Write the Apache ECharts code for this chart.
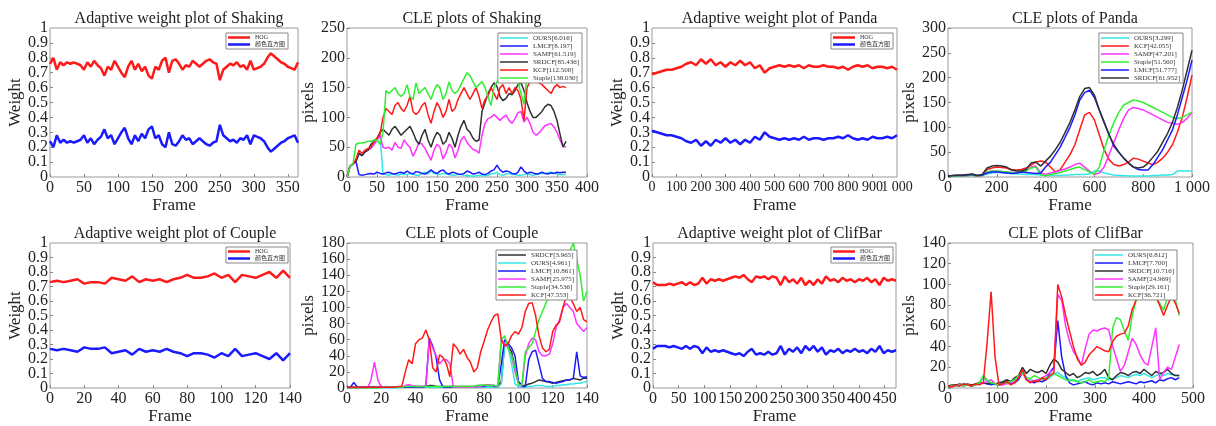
<!DOCTYPE html>
<html><head><meta charset="utf-8">
<script src="https://cdn.jsdelivr.net/npm/echarts@6/dist/echarts.min.js"></script>
<style>html,body{margin:0;padding:0;background:#fff}#c{width:1216px;height:426px}</style>
</head><body><div id="c"></div>
<script>
// ---------- DATA ----------
function steps(a, b, s) { const r = []; for (let v = a; v <= b; v += s) r.push(v); return r; }

// Adaptive weight: Shaking (frames every 5)
const shakingWFrames = steps(0, 365, 5);
const shakingHOG = [0.76,0.80,0.72,0.77,0.75,0.77,0.76,0.77,0.76,0.75,0.72,0.77,0.74,0.78,0.75,0.73,0.68,0.74,0.72,0.78,0.74,0.70,0.67,0.74,0.78,0.72,0.76,0.71,0.74,0.68,0.66,0.74,0.72,0.78,0.80,0.70,0.78,0.79,0.76,0.72,0.75,0.74,0.78,0.76,0.74,0.76,0.78,0.79,0.77,0.76,0.65,0.72,0.74,0.76,0.75,0.77,0.74,0.75,0.72,0.78,0.72,0.73,0.74,0.76,0.80,0.83,0.81,0.79,0.77,0.76,0.74,0.73,0.72,0.77];
const shakingColor = [0.24,0.20,0.28,0.23,0.25,0.23,0.24,0.23,0.24,0.25,0.28,0.23,0.26,0.22,0.25,0.27,0.32,0.26,0.28,0.22,0.26,0.30,0.33,0.26,0.22,0.28,0.24,0.29,0.26,0.32,0.34,0.26,0.28,0.22,0.20,0.30,0.22,0.21,0.24,0.28,0.25,0.26,0.22,0.24,0.26,0.24,0.22,0.21,0.23,0.24,0.35,0.28,0.26,0.24,0.25,0.23,0.26,0.25,0.28,0.22,0.28,0.27,0.26,0.24,0.20,0.17,0.19,0.21,0.23,0.24,0.26,0.27,0.28,0.23];

// CLE: Shaking (frames every 5)
const shakingCFrames = steps(0, 365, 5);
const shakingOURS = [0,18,22,26,40,36,42,45,48,55,62,70,5,4,3,5,4,3,5,4,4,6,5,3,3,6,8,5,10,6,5,4,6,5,4,3,3,4,5,3,2,2,1,2,3,2,2,3,5,6,8,4,3,5,6,4,4,3,3,4,5,4,3,4,5,6,6,7,8,6,5,4,4,4];
const shakingLMCF = [0,18,22,26,4,3,4,5,6,5,8,6,5,7,8,6,5,7,8,6,10,7,5,9,8,6,5,8,12,8,6,10,12,7,5,8,7,5,4,6,10,8,5,6,8,5,4,6,10,12,20,12,8,10,9,6,5,8,17,10,6,8,7,5,6,8,6,5,7,6,8,7,8,8];
const shakingSAMF = [0,18,22,26,40,36,42,45,48,55,62,70,50,48,50,45,58,50,48,62,55,50,35,45,58,55,48,38,28,45,55,50,30,40,55,50,32,45,62,68,58,52,46,45,40,70,90,98,100,105,100,95,100,104,95,90,98,108,110,92,100,90,75,70,74,80,86,88,90,84,75,62,52,50];
const shakingSRDCF = [0,18,22,26,40,36,42,45,55,60,65,75,80,75,70,80,85,78,70,75,80,85,75,62,55,70,80,62,50,65,75,70,55,60,75,65,50,70,85,95,80,75,65,60,62,110,125,140,150,158,152,135,128,132,140,138,145,155,158,145,125,110,100,100,105,110,118,122,120,110,95,72,50,60];
const shakingKCF = [0,18,22,30,45,40,45,48,50,60,65,72,100,115,110,105,120,125,115,110,120,135,110,105,110,120,125,105,90,110,125,115,100,110,130,110,115,130,140,150,140,130,140,150,135,115,130,135,150,140,130,150,155,140,150,140,150,145,130,95,150,160,162,160,158,155,150,145,140,150,155,150,152,150];
const shakingStaple = [0,18,22,55,57,57,58,60,60,62,62,55,75,145,140,145,150,140,135,140,155,135,130,158,140,145,150,140,130,145,155,150,130,140,160,145,140,145,155,165,175,170,160,150,155,160,150,135,120,150,160,165,170,175,165,170,175,160,140,122,170,180,185,190,185,180,185,190,185,180,178,175,180,182];

// Adaptive weight: Panda (frames every 20)
const pandaWFrames = steps(0, 1000, 20);
const pandaHOG = [0.69,0.70,0.71,0.72,0.72,0.73,0.74,0.76,0.77,0.75,0.79,0.76,0.79,0.75,0.77,0.74,0.77,0.75,0.78,0.75,0.77,0.73,0.75,0.70,0.73,0.74,0.75,0.74,0.75,0.74,0.75,0.73,0.75,0.74,0.74,0.75,0.74,0.74,0.73,0.74,0.72,0.74,0.75,0.74,0.75,0.73,0.74,0.74,0.73,0.74,0.72];
const pandaColor = [0.31,0.30,0.29,0.28,0.28,0.27,0.26,0.24,0.23,0.25,0.21,0.24,0.21,0.25,0.23,0.26,0.23,0.25,0.22,0.25,0.23,0.27,0.25,0.30,0.27,0.26,0.25,0.26,0.25,0.26,0.25,0.27,0.25,0.26,0.26,0.25,0.26,0.26,0.27,0.26,0.28,0.26,0.25,0.26,0.25,0.27,0.26,0.26,0.27,0.26,0.28];

// CLE: Panda (frames every 20)
const pandaCFrames = steps(0, 1000, 20);
const pandaOURS = [1,2,2,2,3,3,2,3,6,8,9,9,8,7,6,6,5,5,5,4,3,3,3,3,4,4,5,5,5,6,12,12,8,6,4,3,3,2,2,2,2,2,3,3,4,4,5,12,12,12,12];
const pandaKCF = [1,2,2,3,3,4,2,3,15,18,20,19,18,15,14,15,18,24,30,32,30,20,10,15,30,45,65,95,125,130,115,85,55,35,25,22,25,30,38,36,32,28,25,30,38,50,65,90,120,160,205];
const pandaSAMF = [1,2,2,3,3,4,2,3,10,12,12,11,10,9,8,10,12,20,22,8,5,8,10,13,16,20,25,28,20,12,5,8,20,45,70,95,118,135,140,138,135,130,125,120,115,110,108,106,110,118,130];
const pandaStaple = [1,2,2,3,3,4,2,3,10,12,12,11,10,9,8,10,12,18,20,4,3,5,7,9,12,15,18,20,15,10,6,20,55,85,110,130,145,150,155,153,150,145,140,135,130,125,120,118,120,125,130];
const pandaLMCF = [2,3,3,4,4,5,3,4,8,10,10,9,8,7,8,10,9,8,7,8,20,30,45,60,80,100,125,155,170,175,160,135,110,85,62,50,38,28,20,15,14,14,25,40,55,75,95,125,160,195,235];
const pandaSRDCF = [2,3,4,3,5,6,3,5,18,22,23,22,20,14,12,12,15,28,30,22,32,42,55,70,90,110,135,162,178,180,165,135,110,85,65,50,38,28,20,18,20,28,40,52,70,88,110,140,175,215,255];

// Adaptive weight: Couple (frames every 4)
const coupleWFrames = steps(0, 140, 4);
const coupleHOG = [0.73,0.74,0.73,0.74,0.75,0.72,0.73,0.73,0.72,0.76,0.75,0.74,0.77,0.73,0.75,0.74,0.75,0.73,0.75,0.76,0.78,0.76,0.76,0.77,0.79,0.76,0.78,0.73,0.78,0.77,0.76,0.78,0.80,0.76,0.81,0.76];
const coupleColor = [0.27,0.26,0.27,0.26,0.25,0.28,0.27,0.27,0.28,0.24,0.25,0.26,0.23,0.27,0.25,0.26,0.25,0.27,0.25,0.24,0.22,0.24,0.24,0.23,0.21,0.24,0.22,0.27,0.22,0.23,0.24,0.22,0.20,0.24,0.19,0.24];

// CLE: Couple (frames every 2)
const coupleCFrames = steps(0, 140, 2);
const coupleSRDCF = [1,1,1,1,1,1,1,1,1,1, 1,1,1,1,1,1,1,2,2,2, 2,2,2,2,3,3,2,2,2,2, 2,2,2,2,2,2,2,2,3,3, 3,3,3,3,2,8,55,52,45,25, 8,3,3,5,6,8,10,9,8,7, 6,7,8,9,10,10,12,11,10,12, 12];
const coupleOURS = [0,0,0,0,0,0,0,0,0,0, 0,0,0,0,0,0,1,1,1,1, 1,1,1,1,1,1,1,1,1,1, 1,1,1,1,1,1,1,1,1,1, 1,1,1,1,1,5,55,50,30,5, 2,1,1,2,2,3,3,3,2,2, 2,3,3,4,4,5,5,6,6,7, 8];
const coupleLMCF = [1,1,7,1,1,1,1,1,1,1, 1,1,1,1,1,1,1,1,1,1, 1,1,1,2,62,52,38,10,1,1, 1,1,1,1,1,1,1,1,2,2, 2,3,3,2,2,30,60,55,50,40, 8,2,2,35,45,47,30,12,8,8, 7,6,7,8,10,10,12,45,15,13, 14];
const coupleSAMF = [0,0,0,0,0,0,0,10,32,10, 1,1,1,1,1,1,1,3,4,3, 2,2,2,3,60,50,40,30,35,35, 30,1,1,1,1,1,1,1,2,2, 3,4,3,3,2,60,55,50,40,20, 5,2,40,55,62,60,45,40,40,42, 55,75,85,100,105,100,95,80,75,70, 75];
const coupleStaple = [0,0,0,0,0,0,0,0,0,0, 1,1,1,1,1,1,1,2,2,2, 2,2,2,2,2,2,2,2,2,2, 2,2,2,2,2,2,2,2,3,3, 4,3,3,3,2,60,65,50,40,25, 5,3,45,50,55,70,85,95,105,115, 120,128,138,148,158,170,180,160,140,108, 120];
const coupleKCF = [1,1,1,1,1,1,1,1,1,1, 1,1,1,1,1,2,2,20,35,30, 55,60,62,72,60,25,20,41,38,30, 14,55,50,42,48,38,32,20,25,45, 58,72,82,90,92,60,52,55,65,70, 67,75,95,105,106,90,65,50,45,48, 70,78,82,100,115,112,105,95,100,85, 82];

// Adaptive weight: ClifBar (frames every 8)
const clifWFrames = steps(0, 472, 8);
const clifHOG = [0.73,0.71,0.71,0.71,0.72,0.71,0.72,0.73,0.71,0.73,0.71,0.72,0.76,0.72,0.75,0.74,0.75,0.74,0.75,0.76,0.77,0.76,0.78,0.75,0.73,0.77,0.76,0.77,0.75,0.77,0.76,0.71,0.77,0.73,0.75,0.72,0.76,0.71,0.74,0.71,0.75,0.72,0.77,0.74,0.75,0.73,0.76,0.74,0.75,0.73,0.75,0.74,0.76,0.73,0.75,0.71,0.76,0.74,0.75,0.74];
const clifColor = [0.27,0.29,0.29,0.29,0.28,0.29,0.28,0.27,0.29,0.27,0.29,0.28,0.24,0.28,0.25,0.26,0.25,0.26,0.25,0.24,0.23,0.24,0.22,0.25,0.27,0.23,0.24,0.23,0.25,0.23,0.24,0.29,0.23,0.27,0.25,0.28,0.24,0.29,0.26,0.29,0.25,0.28,0.23,0.26,0.25,0.27,0.24,0.26,0.25,0.27,0.25,0.26,0.24,0.27,0.25,0.29,0.24,0.26,0.25,0.26];

// CLE: ClifBar (frames every 8)
const clifCFrames = steps(0, 472, 8);
const clifOURS = [1,2,2,3,2,3,2,3,5,10, 6,4,3,3,4,5,6,8,12,15, 10,8,7,8,9,8,10,14,15,12, 10,8,7,6,8,9,10,8,9,10, 10,8,9,10,12,11,10,12,13,12, 14,12,10,12,13,12,14,13,12,12];
const clifLMCF = [1,2,3,2,4,3,2,3,4,5, 4,3,4,3,5,6,4,5,8,15, 8,6,5,7,6,8,15,20,65,30, 12,5,3,4,5,6,4,3,5,4, 5,4,6,5,4,5,6,5,4,6, 5,6,7,5,8,7,9,10,8,10];
const clifSRDCF = [2,3,3,4,3,4,3,4,5,5, 4,5,4,5,6,8,6,10,12,20, 14,18,16,15,17,14,22,28,25,18, 15,12,14,10,12,15,14,16,12,14, 18,10,8,12,15,14,12,15,16,14, 18,15,12,16,14,15,18,14,12,12];
const clifSAMF = [1,2,2,3,2,3,2,3,4,5, 6,8,4,3,3,4,5,6,10,15, 8,6,7,8,10,12,15,18,90,85, 60,45,35,30,22,38,52,56,55,57, 58,56,40,28,16,22,35,48,42,32, 25,22,40,58,8,15,20,18,30,42];
const clifStaple = [1,2,2,3,2,3,2,3,5,12, 8,5,4,3,4,5,6,8,12,15, 10,9,12,10,8,10,12,14,12,10, 8,7,8,6,5,6,8,5,6,7, 6,10,58,68,66,55,46,70,85,92, 95,90,98,88,82,75,88,92,85,70];
const clifKCF = [2,1,3,2,4,3,2,4,3,5, 45,93,30,3,4,6,3,5,10,18, 8,5,7,6,10,8,12,15,100,88, 70,55,40,28,22,25,32,36,40,38, 36,35,45,50,52,53,60,76,85,89, 90,95,92,88,80,70,80,88,82,72];

// ---------- STYLE / LAYOUT ----------
const FONT = 'Liberation Serif, Noto Sans CJK SC, serif';
const C = {red:'#ff1a1a', blue:'#1a1aff', cyan:'#33e6e6', mag:'#ff33ff', green:'#33ee33', gray:'#303030'};

const panels = [
  {title:'Adaptive weight plot of Shaking', g:{left:50,top:28,width:248,height:149}, xmax:365, xint:50, ymax:1, yint:0.1, yname:'Weight', w:true,
   lg:{right:928, top:33}, frames:shakingWFrames,
   s:[['HOG',shakingHOG,C.red],['颜色直方图',shakingColor,C.blue]]},
  {title:'CLE plots of Shaking', g:{left:347,top:28,width:240,height:149}, xmax:400, xint:50, ymax:250, yint:50, yname:'pixels',
   lg:{right:634, top:33}, frames:shakingCFrames,
   s:[['OURS[6.016]',shakingOURS,C.cyan],['LMCF[8.197]',shakingLMCF,C.blue],['SAMF[61.519]',shakingSAMF,C.mag],['SRDCF[85.436]',shakingSRDCF,C.gray],['KCF[112.500]',shakingKCF,C.red],['Staple[138.030]',shakingStaple,C.green]]},
  {title:'Adaptive weight plot of Panda', g:{left:652,top:28,width:245,height:149}, xmax:1000, xint:100, ymax:1, yint:0.1, yname:'Weight', w:true, xfs:14, xsplit:true,
   lg:{right:323, top:33}, frames:pandaWFrames,
   s:[['HOG',pandaHOG,C.red],['颜色直方图',pandaColor,C.blue]]},
  {title:'CLE plots of Panda', g:{left:948,top:28,width:244,height:149}, xmax:1000, xint:200, ymax:300, yint:50, yname:'pixels',
   lg:{right:33, top:33}, frames:pandaCFrames,
   s:[['OURS[3.299]',pandaOURS,C.cyan],['KCF[42.055]',pandaKCF,C.red],['SAMF[47.201]',pandaSAMF,C.mag],['Staple[51.560]',pandaStaple,C.green],['LMCF[51.777]',pandaLMCF,C.blue],['SRDCF[61.952]',pandaSRDCF,C.gray]]},
  {title:'Adaptive weight plot of Couple', g:{left:50,top:243,width:240,height:147}, xmax:140, xint:20, ymax:1, yint:0.1, yname:'Weight', w:true,
   lg:{right:928, top:247}, frames:coupleWFrames,
   s:[['HOG',coupleHOG,C.red],['颜色直方图',coupleColor,C.blue]]},
  {title:'CLE plots of Couple', g:{left:347,top:243,width:240,height:147}, xmax:140, xint:20, ymax:180, yint:20, yname:'pixels',
   lg:{right:639, top:250}, frames:coupleCFrames,
   s:[['SRDCF[3.965]',coupleSRDCF,C.gray],['OURS[4.961]',coupleOURS,C.cyan],['LMCF[10.861]',coupleLMCF,C.blue],['SAMF[25.975]',coupleSAMF,C.mag],['Staple[34.536]',coupleStaple,C.green],['KCF[47.553]',coupleKCF,C.red]]},
  {title:'Adaptive weight plot of ClifBar', g:{left:653,top:243,width:243,height:147}, xmax:472, xint:50, ymax:1, yint:0.1, yname:'Weight', w:true,
   lg:{right:323, top:247}, frames:clifWFrames,
   s:[['HOG',clifHOG,C.red],['颜色直方图',clifColor,C.blue]]},
  {title:'CLE plots of ClifBar', g:{left:948,top:243,width:245,height:147}, xmax:500, xint:100, ymax:140, yint:20, yname:'pixels',
   lg:{right:39, top:250}, frames:clifCFrames,
   s:[['OURS[6.812]',clifOURS,C.cyan],['LMCF[7.700]',clifLMCF,C.blue],['SRDCF[10.716]',clifSRDCF,C.gray],['SAMF[24.969]',clifSAMF,C.mag],['Staple[29.161]',clifStaple,C.green],['KCF[36.721]',clifKCF,C.red]]}
];

const option = {animation:false, backgroundColor:'#fff', textStyle:{fontFamily:FONT},
  title:[], grid:[], xAxis:[], yAxis:[], legend:[], series:[]};
const extraX = [], extraY = [];
const fmtX = v => v === 1000 ? '1 000' : String(v);
const fmtY = v => String(Math.round(v*10)/10);
const tick = {show:true, inside:true, length:3, lineStyle:{color:'#888'}};
const nameTS = {fontFamily:FONT, fontSize:17, color:'#222'};

panels.forEach((p, i) => {
  const g = p.g;
  option.grid.push({left:g.left, top:g.top, width:g.width, height:g.height, show:true, borderColor:'#9a9a9a', borderWidth:1, backgroundColor:'#fff'});
  option.title.push({text:p.title, left:g.left + g.width/2, top:g.top - 22, textAlign:'center',
    textStyle:{fontFamily:FONT, fontSize:16, fontWeight:'normal', color:'#222'}});
  const xfs = p.xfs || 16;
  option.xAxis.push({type:'value', gridIndex:i, min:0, max:p.xmax, interval:p.xint,
    name:'Frame', nameLocation:'middle', nameGap:20, nameTextStyle:nameTS,
    axisLine:{show:false}, splitLine:{show:false}, axisTick:tick,
    axisLabel:{fontFamily:FONT, fontSize:xfs, color:'#222', margin:3,
      showMinLabel:true, showMaxLabel: p.xsplit ? false : (p.xmax % p.xint === 0), formatter: fmtX}});
  if (p.xsplit) {
    // label-only axis that carries the end label "1 000"
    extraX.push({type:'value', gridIndex:i, min:0, max:p.xmax, interval:p.xmax, position:'bottom',
      axisLine:{show:false}, splitLine:{show:false}, axisTick:{show:false},
      axisLabel:{fontFamily:FONT, fontSize:xfs, color:'#222', margin:3, showMinLabel:false, showMaxLabel:true, formatter: fmtX}});
  }
  option.yAxis.push({type:'value', gridIndex:i, min:0, max:p.ymax, interval:p.yint,
    name:p.yname, nameLocation:'middle', nameGap:24, nameTextStyle:nameTS,
    axisLine:{show:false}, splitLine:{show:false}, axisTick:tick,
    axisLabel:{fontFamily:FONT, fontSize:16, color:'#222', margin:2,
      showMinLabel: !p.w, showMaxLabel: !p.w, formatter: fmtY}});
  if (p.w) {
    // label-only axis that carries the end labels 0 and 1
    extraY.push({type:'value', gridIndex:i, min:0, max:p.ymax, interval:p.ymax, position:'left',
      axisLine:{show:false}, splitLine:{show:false}, axisTick:{show:false},
      axisLabel:{fontFamily:FONT, fontSize:16, color:'#222', margin:2, showMinLabel:true, showMaxLabel:true, formatter: fmtY}});
  }
  option.legend.push({orient:'vertical', right:p.lg.right, top:p.lg.top, z:20,
    data:p.s.map(s => s[0]), icon:'rect', itemGap:0, itemWidth: p.w ? 22 : 28, itemHeight: p.w ? 2.5 : 1.5,
    padding:[1,3,1,2], borderColor:'#888', borderWidth:1, backgroundColor:'#fff',
    textStyle:{fontFamily:FONT, fontSize: p.w ? 6 : 7, color:'#333', lineHeight: p.w ? 7 : 8},
    selectedMode:false});
  p.s.forEach(([name, vals, color]) => {
    option.series.push({type:'line', name, xAxisIndex:i, yAxisIndex:i, symbol:'none', color,
      lineStyle:{width: p.w ? 2.5 : 1.5, color}, data: p.frames.map((f, k) => [f, vals[k]])});
  });
});
option.xAxis = option.xAxis.concat(extraX);
option.yAxis = option.yAxis.concat(extraY);

const chart = echarts.init(document.getElementById('c'), null, {renderer:'canvas'});
chart.setOption(option);
</script></body></html>
